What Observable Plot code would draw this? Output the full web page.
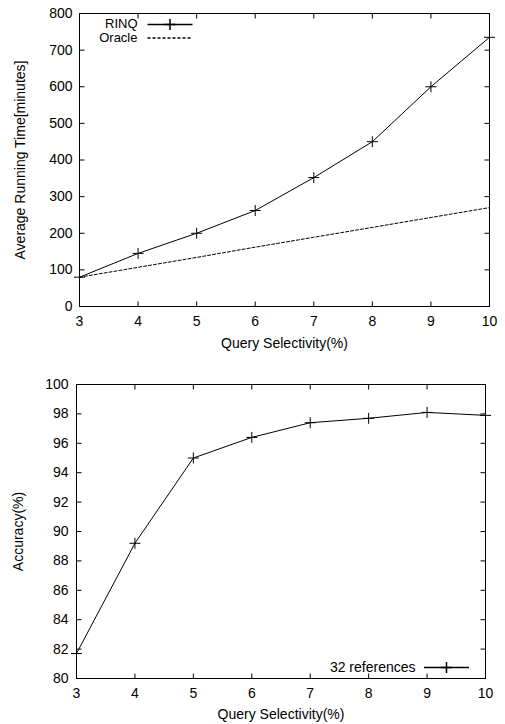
<!DOCTYPE html>
<html><head><meta charset="utf-8">
<script src="https://cdn.jsdelivr.net/npm/d3@7"></script>
<script src="https://cdn.jsdelivr.net/npm/@observablehq/plot@0.6"></script>
<style>body{margin:0;background:#fff;} #c svg{display:block;}</style>
</head><body><div id="c"></div>
<script>
// ---- data ----
const selectivity = [3, 4, 5, 6, 7, 8, 9, 10];
const rinqTime = [80, 145, 200, 262, 352, 450, 600, 735];
const oracleTime = [80, 107, 134, 162, 189, 216, 243, 270];
const accuracy = [81.7, 89.2, 95.0, 96.4, 97.4, 97.7, 98.1, 97.9];
const xTicks = [3, 4, 5, 6, 7, 8, 9, 10];
const timeTicks = [0, 100, 200, 300, 400, 500, 600, 700, 800];
const accTicks = [80, 82, 84, 86, 88, 90, 92, 94, 96, 98, 100];
const xLabel = "Query Selectivity(%)";
const timeLabel = "Average Running Time[minutes]";
const accLabel = "Accuracy(%)";
const seriesNames = ["RINQ", "Oracle"];
const accSeriesName = "32 references";

const timeData = selectivity.map((x, i) => ({x, rinq: rinqTime[i], oracle: oracleTime[i]}));
const accData = selectivity.map((x, i) => ({x, acc: accuracy[i]}));

// ---- symbols ----
const plusSym = {draw(ctx) { const a = 5.5; ctx.moveTo(-a, 0); ctx.lineTo(a, 0); ctx.moveTo(0, -a); ctx.lineTo(0, a); }};
const seg = (x0, y0, x1, y1) => ({draw(ctx) { ctx.moveTo(x0, y0); ctx.lineTo(x1, y1); }});
const FONT = "'Liberation Sans', Arial, Helvetica, sans-serif";
const FS = 14;
const T = {fontSize: FS, lineAnchor: "middle"};
const TL = {fontSize: 13, lineAnchor: "middle"};

function frameTicks(xt, yt, len) {
  const o = {stroke: "black", fill: "none", strokeWidth: 1};
  return [
    Plot.dot(yt, {y: d => d, frameAnchor: "left", symbol: seg(0, 0, len, 0), ...o}),
    Plot.dot(yt, {y: d => d, frameAnchor: "right", symbol: seg(0, 0, -len, 0), ...o}),
    Plot.dot(xt, {x: d => d, frameAnchor: "bottom", symbol: seg(0, 0, 0, -len), ...o}),
    Plot.dot(xt, {x: d => d, frameAnchor: "top", symbol: seg(0, 0, 0, len), ...o})
  ];
}

const topChart = Plot.plot({
  width: 505, height: 355,
  marginTop: 13, marginBottom: 49, marginLeft: 79, marginRight: 16,
  style: {fontFamily: FONT, fontSize: FS + "px", background: "white", color: "black", overflow: "visible"},
  x: {domain: [3, 10], label: null},
  y: {domain: [0, 800], label: null},
  marks: [
    Plot.axisX(xTicks, {tickSize: 0, tickPadding: 10, fontSize: FS, label: null}),
    Plot.axisY(timeTicks, {tickSize: 0, tickPadding: 7, fontSize: FS, label: null}),
    ...frameTicks(xTicks, timeTicks, 5),
    Plot.frame({stroke: "black", strokeWidth: 1}),
    Plot.line(timeData, {x: "x", y: "oracle", stroke: "black", strokeWidth: 1, strokeDasharray: "3,2"}),
    Plot.line(timeData, {x: "x", y: "rinq", stroke: "black", strokeWidth: 1}),
    Plot.dot(timeData, {x: "x", y: "rinq", symbol: plusSym, stroke: "black", fill: "none", strokeWidth: 1}),
    // legend
    Plot.text([seriesNames[0]], {frameAnchor: "top-left", dx: 58, dy: 10.5, textAnchor: "end", ...TL}),
    Plot.text([seriesNames[1]], {frameAnchor: "top-left", dx: 58, dy: 24.5, textAnchor: "end", ...TL}),
    Plot.dot([0], {frameAnchor: "top-left", dx: 90.5, dy: 11, symbol: seg(-22.5, 0, 22.5, 0), stroke: "black", fill: "none"}),
    Plot.dot([0], {frameAnchor: "top-left", dx: 90.5, dy: 11, symbol: plusSym, stroke: "black", fill: "none"}),
    Plot.dot([0], {frameAnchor: "top-left", dx: 90.5, dy: 24.5, symbol: seg(-22.5, 0, 22.5, 0), stroke: "black", fill: "none", strokeDasharray: "3,2"}),
    // axis titles
    Plot.text([xLabel], {frameAnchor: "bottom", dy: 37, textAnchor: "middle", ...T}),
    Plot.text([timeLabel], {frameAnchor: "left", dx: -59, rotate: -90, textAnchor: "middle", ...T})
  ]
});

const bottomChart = Plot.plot({
  width: 505, height: 369,
  marginTop: 29, marginBottom: 46, marginLeft: 76, marginRight: 20,
  style: {fontFamily: FONT, fontSize: FS + "px", background: "white", color: "black", overflow: "visible"},
  x: {domain: [3, 10], label: null},
  y: {domain: [80, 100], label: null},
  marks: [
    Plot.axisX(xTicks, {tickSize: 0, tickPadding: 10, fontSize: FS, label: null}),
    Plot.axisY(accTicks, {tickSize: 0, tickPadding: 8, fontSize: FS, label: null}),
    ...frameTicks(xTicks, accTicks, 5),
    Plot.frame({stroke: "black", strokeWidth: 1}),
    Plot.line(accData, {x: "x", y: "acc", stroke: "black", strokeWidth: 1}),
    Plot.dot(accData, {x: "x", y: "acc", symbol: plusSym, stroke: "black", fill: "none", strokeWidth: 1}),
    // legend
    Plot.text([accSeriesName], {frameAnchor: "bottom-right", dx: -70, dy: -11, textAnchor: "end", ...T}),
    Plot.dot([0], {frameAnchor: "bottom-right", dx: -39, dy: -11, symbol: seg(-22.5, 0, 22.5, 0), stroke: "black", fill: "none"}),
    Plot.dot([0], {frameAnchor: "bottom-right", dx: -39, dy: -11, symbol: plusSym, stroke: "black", fill: "none"}),
    // axis titles
    Plot.text([xLabel], {frameAnchor: "bottom", dy: 36, textAnchor: "middle", ...T}),
    Plot.text([accLabel], {frameAnchor: "left", dx: -58, rotate: -90, textAnchor: "middle", ...T})
  ]
});

document.getElementById("c").append(topChart, bottomChart);
</script>
</body></html>
